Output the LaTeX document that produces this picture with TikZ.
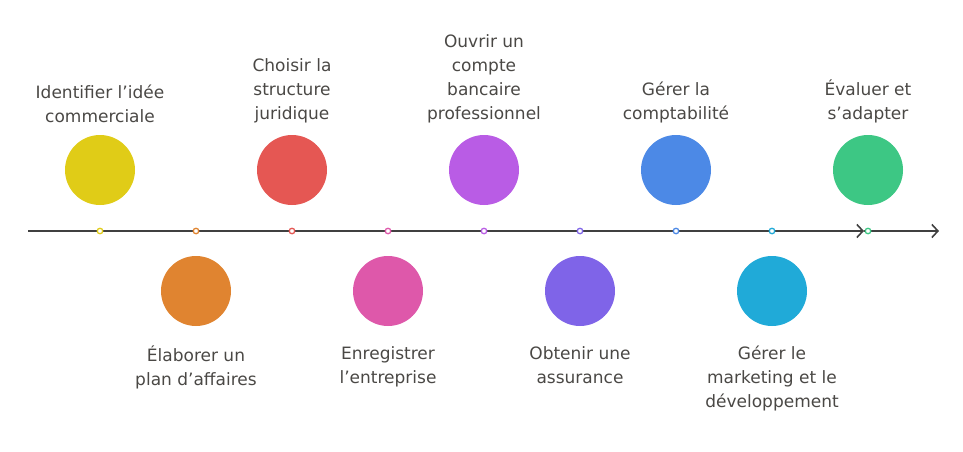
\documentclass[tikz,border=0pt]{standalone}
\usepackage{fontspec}
\setmainfont{DejaVu Sans}
\usetikzlibrary{arrows.meta}
\definecolor{c1}{HTML}{E0CC17}\definecolor{c2}{HTML}{E08430}\definecolor{c3}{HTML}{E55753}
\definecolor{c4}{HTML}{DE58AA}\definecolor{c5}{HTML}{B95CE5}\definecolor{c6}{HTML}{7F64E8}
\definecolor{c7}{HTML}{4C89E6}\definecolor{c8}{HTML}{20AAD8}\definecolor{c9}{HTML}{3DC784}
\definecolor{txt}{HTML}{4A4845}\definecolor{axis}{HTML}{404040}
\tikzset{
 big/.style={circle,fill=#1,minimum size=70pt,inner sep=0pt},
 tick/.style={circle,draw=#1,fill=white,line width=1.3pt,minimum size=5.5pt,inner sep=0pt},
 lab/.style={text=txt,font=\fontsize{17}{24}\selectfont,align=center,inner sep=0pt},
 ax/.style={draw=axis,line width=1.6pt,-{Straight Barb[length=6pt,width=13pt,line width=1.6pt]}}
}
\begin{document}
\begin{tikzpicture}[x=1pt,y=-1pt]
\useasboundingbox (0,0) rectangle (963,452);
\coordinate (s) at (28,231);
\coordinate (m) at (864,231);
\coordinate (e) at (939,231);
\draw[ax] (s) -- (m);
\draw[ax] (m) -- (e);
\foreach \i/\x/\pos/\t in {1/100/a/{Identifier l'idée\\commerciale},
 2/196/b/{Élaborer un\\plan d'affaires},
 3/292/a/{Choisir la\\structure\\juridique},
 4/388/b/{Enregistrer\\l'entreprise},
 5/484/a/{Ouvrir un\\compte\\bancaire\\professionnel},
 6/580/b/{Obtenir une\\assurance},
 7/676/a/{Gérer la\\comptabilité},
 8/772/b/{Gérer le\\marketing et le\\développement},
 9/868/a/{Évaluer et\\s'adapter}}{
 \node[tick=c\i] (t\i) at (\x,231) {};
 \if a\pos
  \node[big=c\i] (c\i) at (\x,170) {};
  \node[lab,anchor=south] (l\i) at (\x,123) {\t};
 \else
  \node[big=c\i] (c\i) at (\x,291) {};
  \node[lab,anchor=north] (l\i) at (\x,346) {\t};
 \fi
}
\end{tikzpicture}
\end{document}
